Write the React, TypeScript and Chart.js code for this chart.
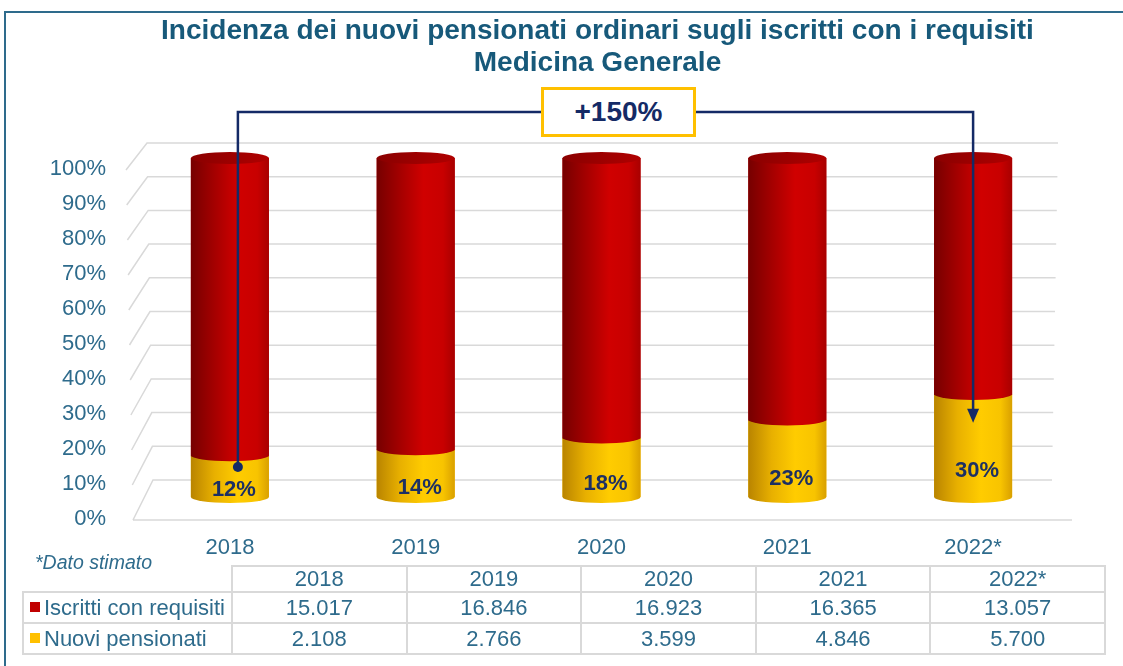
import React, { useEffect, useRef } from "react";
import { Chart, registerables } from "chart.js";
Chart.register(...registerables);

const titleLines = [
  "Incidenza dei nuovi pensionati ordinari sugli iscritti con i requisiti",
  "Medicina Generale",
];
const categories = ["2018", "2019", "2020", "2021", "2022*"];
const iscritti = [15017, 16846, 16923, 16365, 13057];
const nuovi = [2108, 2766, 3599, 4846, 5700];
const seriesNames = ["Iscritti con requisiti", "Nuovi pensionati"];
const yTicks = [0, 10, 20, 30, 40, 50, 60, 70, 80, 90, 100];
const growthLabel = "+150%";
const noteText = "*Dato stimato";

const FONT = '"Liberation Sans", Arial, sans-serif';
const TEAL = "#2e6b8c";
const NAVY = "#142a66";
const RED = "#c00000";
const YELLOW = "#ffc000";

const shareNuovi = nuovi.map((n, i) => (n / (n + iscritti[i])) * 100);
const shareIscritti = shareNuovi.map((s) => 100 - s);

const fmt = (n: number) => String(n).replace(/\B(?=(\d{3})+(?!\d))/g, ".");

const cylPlugin = {
  id: "cyl3d",
  beforeDatasetsDraw(chart: any) {
    const { ctx, chartArea: ca, scales } = chart;
    const y = scales.y;
    const bB = ca.bottom - 17, bT = ca.top - 15, fB = ca.bottom + 23, fT = ca.top + 12;
    const xbB = ca.left + 16, xbT = ca.left + 10, xfB = ca.left - 4, xfT = ca.left - 11;
    const xrB = ca.right - 14, xrT = ca.right - 8;
    ctx.save();
    ctx.strokeStyle = "#d9d9d9";
    ctx.lineWidth = 1.5;
    ctx.font = `22px ${FONT}`;
    ctx.fillStyle = TEAL;
    ctx.textAlign = "right";
    ctx.textBaseline = "middle";
    y.ticks.forEach((t: any) => {
      const f = (y.getPixelForValue(t.value) - ca.bottom) / (ca.top - ca.bottom);
      const yb = bB + (bT - bB) * f, yf = fB + (fT - fB) * f;
      const xb = xbB + (xbT - xbB) * f, xf = xfB + (xfT - xfB) * f;
      const xr = xrB + (xrT - xrB) * f;
      ctx.beginPath();
      ctx.moveTo(xf, yf);
      ctx.lineTo(xb, yb);
      ctx.lineTo(xr, yb);
      ctx.stroke();
      ctx.fillText(t.value + "%", ca.left - 31, yf - 1);
    });
    ctx.beginPath();
    ctx.moveTo(xfB, fB);
    ctx.lineTo(ca.right + 6, fB);
    ctx.stroke();
    ctx.restore();
  },
  afterDatasetsDraw(chart: any) {
    const { ctx, scales } = chart;
    const y = scales.y;
    const m0 = chart.getDatasetMeta(0);
    const m1 = chart.getDatasetMeta(1);
    const ry = 6;
    ctx.save();
    m0.data.forEach((b0: any, i: number) => {
      const b1 = m1.data[i];
      const x = b0.x, w = b0.width, l = x - w / 2, r = x + w / 2;
      const gy = ctx.createLinearGradient(l, 0, r, 0);
      gy.addColorStop(0, "#b98400");
      gy.addColorStop(0.3, "#e8b000");
      gy.addColorStop(0.6, "#ffcc00");
      gy.addColorStop(0.85, "#f8c400");
      gy.addColorStop(1, "#d9a000");
      const gr = ctx.createLinearGradient(l, 0, r, 0);
      gr.addColorStop(0, "#760000");
      gr.addColorStop(0.3, "#a40000");
      gr.addColorStop(0.6, "#d00000");
      gr.addColorStop(0.85, "#c80000");
      gr.addColorStop(1, "#a80000");
      ctx.fillStyle = gy;
      ctx.fillRect(l, b0.y, w, b0.base - b0.y);
      ctx.beginPath();
      ctx.ellipse(x, b0.base, w / 2, ry, 0, 0, Math.PI);
      ctx.fill();
      ctx.fillStyle = gr;
      ctx.fillRect(l, b1.y, w, b1.base - b1.y + 1);
      ctx.beginPath();
      ctx.ellipse(x, b1.base, w / 2, ry, 0, 0, Math.PI);
      ctx.fill();
      const gt = ctx.createLinearGradient(l, 0, r, 0);
      gt.addColorStop(0, "#8a0000");
      gt.addColorStop(0.6, "#a00000");
      gt.addColorStop(1, "#b00000");
      ctx.fillStyle = gt;
      ctx.beginPath();
      ctx.ellipse(x, b1.y, w / 2, ry, 0, 0, Math.PI * 2);
      ctx.fill();
      ctx.fillStyle = "#1c2f63";
      ctx.font = `bold 22px ${FONT}`;
      ctx.textAlign = "center";
      ctx.textBaseline = "middle";
      ctx.fillText(Math.round(shareNuovi[i]) + "%", x + 4, y.getPixelForValue(shareNuovi[i] * 0.3) + 5);
    });
    const first = m0.data[0], last = m0.data[m0.data.length - 1];
    const x0 = first.x + 8, y0 = y.getPixelForValue(shareNuovi[0] * 0.72);
    const x1 = last.x, y1 = y.getPixelForValue(shareNuovi[shareNuovi.length - 1] * 0.72);
    const yTop = 112;
    ctx.strokeStyle = NAVY;
    ctx.fillStyle = NAVY;
    ctx.lineWidth = 2.5;
    ctx.beginPath();
    ctx.moveTo(x0, y0);
    ctx.lineTo(x0, yTop);
    ctx.lineTo(x1, yTop);
    ctx.lineTo(x1, y1 - 12);
    ctx.stroke();
    ctx.beginPath();
    ctx.arc(x0, y0, 5, 0, Math.PI * 2);
    ctx.fill();
    ctx.beginPath();
    ctx.moveTo(x1 - 6, y1 - 14);
    ctx.lineTo(x1 + 6, y1 - 14);
    ctx.lineTo(x1, y1);
    ctx.closePath();
    ctx.fill();
    ctx.restore();
  },
};

export default function App() {
  const ref = useRef<HTMLCanvasElement>(null);
  useEffect(() => {
    const chart = new Chart(ref.current!, {
      type: "bar",
      data: {
        labels: categories,
        datasets: [
          { label: seriesNames[1], data: shareNuovi, backgroundColor: YELLOW, stack: "s" },
          { label: seriesNames[0], data: shareIscritti, backgroundColor: RED, stack: "s" },
        ],
      },
      plugins: [cylPlugin],
      options: {
        animation: false,
        responsive: false,
        maintainAspectRatio: false,
        layout: { padding: { left: 137, right: 57, top: 158, bottom: 99 } },
        datasets: { bar: { barPercentage: 0.42, categoryPercentage: 1 } },
        plugins: { legend: { display: false }, title: { display: false }, tooltip: { enabled: false } },
        scales: {
          x: {
            stacked: true,
            grid: { display: false, drawTicks: false },
            border: { display: false },
            ticks: { padding: 38, color: TEAL, font: { family: FONT, size: 22 } },
            afterFit: (s: any) => { s.height = 70; },
          },
          y: {
            stacked: true,
            display: false,
            min: 0,
            max: 100,
            afterBuildTicks: (s: any) => { s.ticks = yTicks.map((v) => ({ value: v })); },
          },
        },
      },
    });
    return () => chart.destroy();
  }, []);

  const cellBorder = "2px solid #d9d9d9";
  const td: React.CSSProperties = { border: cellBorder, textAlign: "center", padding: 0, height: 29, lineHeight: "26px" };
  const sq = (c: string): React.CSSProperties => ({
    display: "inline-block", width: 10, height: 10, background: c, margin: "0 4px 3px 6px", verticalAlign: "middle",
  });

  return (
    <div style={{ position: "absolute", left: 0, top: 0, width: 1123, height: 666, background: "#fff", overflow: "hidden", fontFamily: FONT }}>
      <div style={{ position: "absolute", left: 4, top: 11, width: 1300, height: 800, borderTop: `2px solid ${TEAL}`, borderLeft: `2px solid ${TEAL}` }} />
      <canvas ref={ref} width={1123} height={666} style={{ position: "absolute", left: 0, top: 0 }} />
      <div style={{ position: "absolute", left: 0, top: 14, width: 1195, textAlign: "center", color: "#17597a", fontWeight: "bold", fontSize: 28, lineHeight: "32px" }}>
        {titleLines.map((t) => (<div key={t}>{t}</div>))}
      </div>
      <div style={{ position: "absolute", left: 541, top: 87, width: 149, height: 44, border: `3px solid ${YELLOW}`, background: "#fff", color: NAVY, fontWeight: "bold", fontSize: 28, lineHeight: "44px", textAlign: "center" }}>
        {growthLabel}
      </div>
      <div style={{ position: "absolute", left: 35, top: 551, color: TEAL, fontStyle: "italic", fontSize: 19.5 }}>{noteText}</div>
      <table style={{ position: "absolute", left: 22, top: 565, borderCollapse: "collapse", tableLayout: "fixed", width: 1082, color: TEAL, fontSize: 22 }}>
        <colgroup>
          <col style={{ width: 209 }} />
          {categories.map((c) => (<col key={c} style={{ width: 174.6 }} />))}
        </colgroup>
        <tbody>
          <tr>
            <td style={{ padding: 0, border: "none", borderBottom: cellBorder }} />
            {categories.map((c) => (<td key={c} style={{ ...td, height: 24, lineHeight: "24px" }}>{c}</td>))}
          </tr>
          <tr>
            <td style={{ ...td, textAlign: "left", whiteSpace: "nowrap" }}><span style={sq(RED)} />{seriesNames[0]}</td>
            {iscritti.map((v, i) => (<td key={i} style={td}>{fmt(v)}</td>))}
          </tr>
          <tr>
            <td style={{ ...td, textAlign: "left", whiteSpace: "nowrap" }}><span style={sq(YELLOW)} />{seriesNames[1]}</td>
            {nuovi.map((v, i) => (<td key={i} style={td}>{fmt(v)}</td>))}
          </tr>
        </tbody>
      </table>
    </div>
  );
}
